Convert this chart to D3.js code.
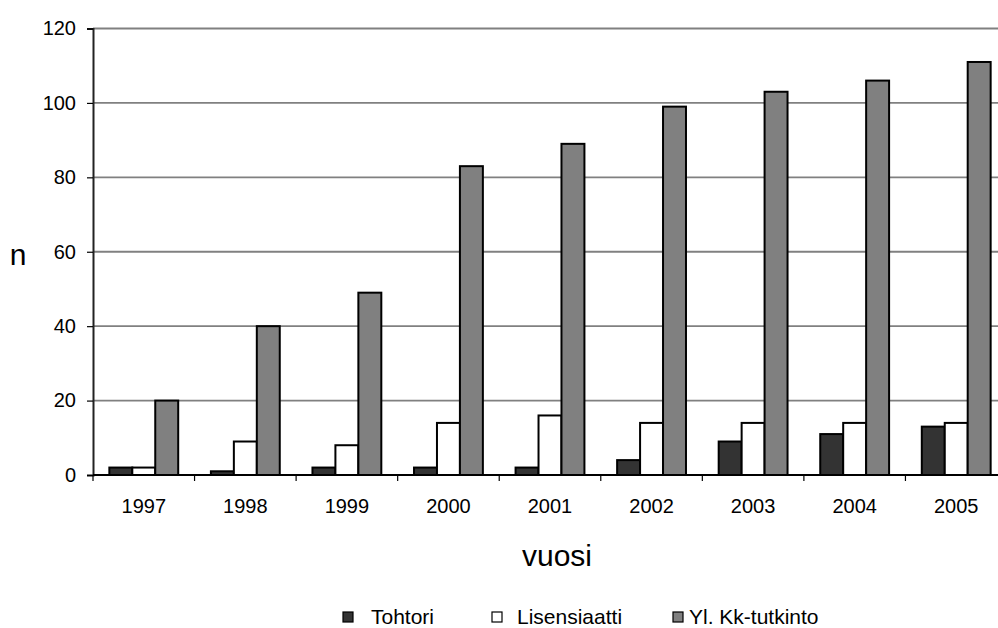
<!DOCTYPE html>
<html>
<head>
<meta charset="utf-8">
<script src="https://cdn.jsdelivr.net/npm/d3@7"></script>
<style>
  html, body { margin: 0; padding: 0; background: #fff; }
  svg { display: block; font-family: "Liberation Sans", Arial, sans-serif; }
</style>
</head>
<body>
<svg id="chart" width="998" height="628"></svg>
<script>
// Graduates per year by degree type
const years = ["1997", "1998", "1999", "2000", "2001", "2002", "2003", "2004", "2005"];
const tohtori = [2, 1, 2, 2, 2, 4, 9, 11, 13];
const lisensiaatti = [2, 9, 8, 14, 16, 14, 14, 14, 14];
const ylKk = [20, 40, 49, 83, 89, 99, 103, 106, 111];
const seriesNames = ["Tohtori", "Lisensiaatti", "Yl. Kk-tutkinto"];
const seriesColors = ["#333333", "#ffffff", "#808080"];
const yTicks = [0, 20, 40, 60, 80, 100, 120];

const series = [tohtori, lisensiaatti, ylKk];

const svg = d3.select("#chart");

const x = d3.scaleBand().domain(years).range([93, 1007]).padding(0);
const y = d3.scaleLinear().domain([0, 120]).range([475, 28.5]);

// horizontal gridlines
svg.append("g")
  .selectAll("line")
  .data(yTicks.filter(d => d > 0))
  .join("line")
  .attr("x1", x.range()[0]).attr("x2", x.range()[1])
  .attr("y1", d => y(d)).attr("y2", d => y(d))
  .attr("stroke", "#808080").attr("stroke-width", 1.8);

// bars
const bw = x.bandwidth();
const barW = bw * 0.226;
const groupOffset = (bw - 3 * barW) / 2;
series.forEach((vals, si) => {
  svg.append("g")
    .selectAll("rect")
    .data(vals)
    .join("rect")
    .attr("x", (d, i) => x(years[i]) + groupOffset + si * barW)
    .attr("y", d => y(d))
    .attr("width", barW)
    .attr("height", d => y(0) - y(d))
    .attr("fill", seriesColors[si])
    .attr("stroke", "#000")
    .attr("stroke-width", 2);
});

// y axis
const yAxis = d3.axisLeft(y).tickValues(yTicks).tickSize(6).tickPadding(11);
const gy = svg.append("g").attr("transform", `translate(${x.range()[0]},0)`).call(yAxis);
gy.select(".domain").attr("stroke", "#222").attr("stroke-width", 2);
gy.selectAll(".tick line").attr("stroke", "#000").attr("stroke-width", 1.2);
gy.selectAll(".tick text").attr("font-size", 20).attr("fill", "#000")
  .attr("font-family", "Liberation Sans, Arial, sans-serif");

// x axis: ticks sit on the category boundaries, labels in the middle
const gx = svg.append("g").attr("transform", `translate(0,${y(0)})`);
gx.append("line")
  .attr("x1", x.range()[0]).attr("x2", x.range()[1])
  .attr("y1", 0).attr("y2", 0)
  .attr("stroke", "#000").attr("stroke-width", 2);
gx.selectAll(".bound")
  .data(years)
  .join("line")
  .attr("class", "bound")
  .attr("x1", d => x(d)).attr("x2", d => x(d))
  .attr("y1", 0).attr("y2", 6)
  .attr("stroke", "#000").attr("stroke-width", 1.2);
gx.selectAll("text")
  .data(years)
  .join("text")
  .attr("x", d => x(d) + bw / 2)
  .attr("y", 38)
  .attr("text-anchor", "middle")
  .attr("font-size", 20)
  .text(d => d);

// axis titles
svg.append("text").attr("x", 18).attr("y", 265).attr("text-anchor", "middle")
  .attr("font-size", 30).text("n");
svg.append("text").attr("x", 557).attr("y", 566).attr("text-anchor", "middle")
  .attr("font-size", 30).text("vuosi");

// legend
const legendBox = [343, 492, 673];
const legendText = [371, 517, 689];
const leg = svg.append("g");
seriesNames.forEach((name, i) => {
  leg.append("rect").attr("x", legendBox[i]).attr("y", 612).attr("width", 10).attr("height", 10)
    .attr("fill", seriesColors[i]).attr("stroke", "#000").attr("stroke-width", 1.2);
  leg.append("text").attr("x", legendText[i]).attr("y", 624)
    .attr("font-size", 21).text(name);
});
</script>
</body>
</html>
